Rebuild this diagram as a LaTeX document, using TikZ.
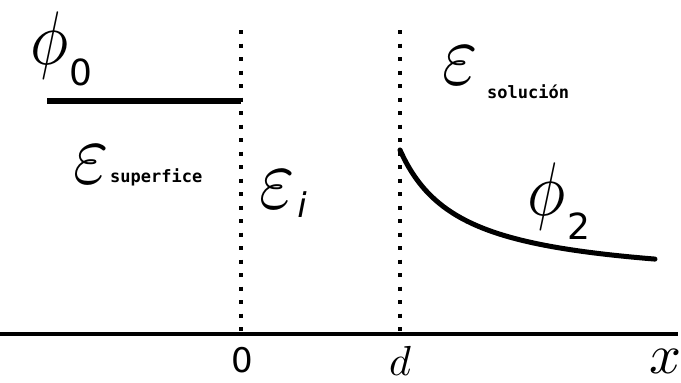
\documentclass[tikz,border=0pt]{standalone}
\usepackage{graphicx}
\usepackage{fontspec}
\newfontfamily\dvsans{DejaVu Sans}
\newfontfamily\dvmono{DejaVu Sans Mono}
\newcommand{\potZero}{101}
\newcommand{\axisY}{334}
\newcommand{\wallL}{241}
\newcommand{\wallR}{400}
\newcommand{\bigmath}[3]{\scalebox{#1}[#2]{$#3$}}
\newcommand{\bigeps}{\scalebox{7.6}[8.8]{$\varepsilon$}}

\begin{document}
\begin{tikzpicture}[
  x=1pt, y=-1pt,
  axisline/.style={line width=3.5pt},
  potline/.style={line width=6pt},
  boundary/.style={line width=4pt, dash pattern=on 4pt off 9.5pt},
  bigsym/.style={inner sep=0pt, font=\fontsize{10}{12}\selectfont},
  subnum/.style={inner sep=0pt, font=\dvsans\fontsize{36}{40}\selectfont},
  subword/.style={inner sep=0pt, anchor=base west,
    font=\dvmono\bfseries\fontsize{17}{18}\selectfont},
  ticklab/.style={inner sep=0pt, font=\fontsize{10}{12}\selectfont},
]
\useasboundingbox (0,0) rectangle (681,383);

% ---- axis and the two boundaries ----------------------------------------
\draw[axisline] (0,\axisY) -- (678,\axisY);
\draw[boundary] (\wallL,30) -- (\wallL,\axisY);
\draw[boundary] (\wallR,30) -- (\wallR,\axisY);

% ---- potentials ------------------------------------------------------------
\draw[potline] (47,\potZero) -- (\wallL,\potZero);
\draw[line width=5pt, line cap=round, domain=400:655, samples=60, smooth]
  plot (\x,{284.75-8085/(\x-340)});

\node[bigsym] (phiZ) at (50,45) {\bigmath{6.4}{7.6}{\phi}};
\node[subnum] (phiZsub) at (81,72) {0};
\node[bigsym] (phiT) at (547,196) {\bigmath{6.4}{7.6}{\phi}};
\node[subnum] (phiTsub) at (579,226) {2};

% ---- permittivities ------------------------------------------------------
\node[bigsym] (epsS) at (91,165) {\bigeps};
\node[subword] (epsSsub) at (110,182) {superfice};
\node[bigsym] (epsI) at (277,190) {\bigeps};
\node[subnum, font=\dvsans\itshape\fontsize{34}{40}\selectfont] (epsIsub)
  at (302,205) {i};
\node[bigsym] (epsL) at (460,66) {\bigeps};
\node[subword] (epsLsub) at (487,98) {solución};

% ---- axis labels ---------------------------------------------------------
\node[ticklab, font=\dvsans\fontsize{34}{40}\selectfont] (tZero) at (242,360) {0};
\node[ticklab] (tD) at (400,361) {\bigmath{4.2}{4.2}{d}};
\node[ticklab] (tX) at (665,361) {\bigmath{5.6}{5.6}{x}};
\end{tikzpicture}
\end{document}
